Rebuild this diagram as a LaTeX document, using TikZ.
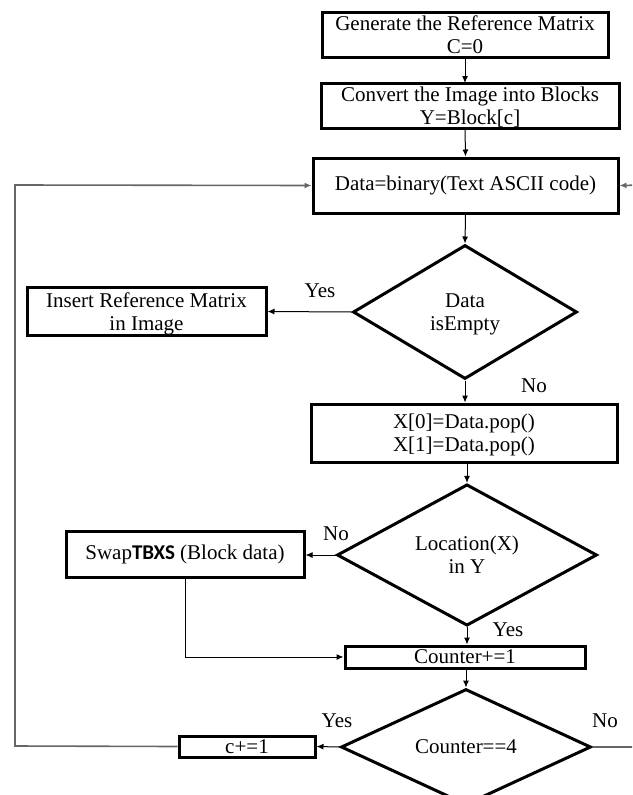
\documentclass[tikz,border=0pt]{standalone}
\usepackage{fontspec}
\setmainfont{Liberation Serif}
\newfontfamily\carlito{Carlito}
\usetikzlibrary{shapes.geometric,arrows.meta}
\tikzset{
  box/.style={draw=black, line width=3pt, fill=white, inner sep=0pt, align=center,
    font=\fontsize{21}{23}\selectfont},
  dia/.style={draw=black, line width=3pt, diamond, inner sep=0pt, align=center,
    font=\fontsize{21}{23}\selectfont},
  low/.style={text depth=0pt},
  lbl/.style={font=\fontsize{21}{23}\selectfont, inner sep=0pt},
  conn/.style={draw=black, line width=1pt, -{Latex[length=7pt,width=6pt]}},
  loop/.style={draw=black!60, line width=1.6pt, -{Latex[length=7pt,width=6pt]}, color=black!60}
}
\begin{document}
\begin{tikzpicture}[x=1pt,y=-1pt]
\clip (0,0) rectangle (632,795);
\fill[white] (0,0) rectangle (632,795);
% boxes
\node[box, low, minimum width=286pt, minimum height=45pt] (b1) at (465,34.5) {Generate the Reference Matrix\\C=0};
\node[box, low, minimum width=298pt, minimum height=45pt] (b2) at (470,105.5) {Convert the Image into Blocks\\Y=Block[c]};
\node[box, minimum width=305pt, minimum height=55pt] (b3) at (465.5,185.5) {Data=binary(Text ASCII code)};
\node[dia, low, minimum width=224pt, minimum height=134pt] (d1) at (465,312) {Data\\isEmpty};
\node[box, low, minimum width=239pt, minimum height=48pt] (ins) at (146.5,311.5) {Insert Reference Matrix\\in Image};
\node[box, low, minimum width=306pt, minimum height=58pt] (xb) at (464,433) {X[0]=Data.pop()\\X[1]=Data.pop()};
\node[dia, low, minimum width=260pt, minimum height=130pt] (d2) at (467,555) {Location(X)\\in Y};
\node[box, minimum width=238pt, minimum height=46pt] (sw) at (185,554.5) {Swap{\carlito\bfseries TBXS} (Block data)};
\node[box, minimum width=240pt, minimum height=22pt] (cnt) at (465,657) {Counter+=1};
\node[dia, minimum width=250pt, minimum height=96pt] (d3) at (466,747) {Counter==4};
\node[box, minimum width=136pt, minimum height=21pt] (cb) at (247,746.5) {c+=1};
% coordinates for loops
\coordinate (lt) at (15,746);
\coordinate (lb) at (15,185);
\coordinate (rt) at (645,747);
\coordinate (rb) at (645,185);
% connectors
\draw[conn] (b1.south -| 465,0) -- (465,83);
\draw[conn] (465,128) -- (b3.north);
\draw[conn] (b3.south) -- (d1.north);
\draw[conn] (d1.west) -- (ins.east);
\draw[conn] (d1.south) -- (xb.north -| d1.south);
\draw[conn] (xb.south -| d2.north) -- (d2.north);
\draw[conn] (d2.west) -- (sw.east |- d2.west);
\draw[conn] (d2.south) -- (cnt.north -| d2.south);
\draw[conn] (sw.south) |- (cnt.west);
\draw[conn] (cnt.south -| d3.north) -- (d3.north);
\draw[conn] (d3.west) -- (cb.east);
\draw[loop] (cb.west) -- (lt) -- (lb) -- (b3.west);
\draw[loop] (d3.east) -- (rt) -- (rb) -- (b3.east);
% labels
\node[lbl] (l1) at (320,291) {Yes};
\node[lbl] (l2) at (534,386) {No};
\node[lbl] (l3) at (336,534) {No};
\node[lbl] (l4) at (508,630) {Yes};
\node[lbl] (l5) at (337,721) {Yes};
\node[lbl] (l6) at (605,721) {No};
\end{tikzpicture}
\end{document}
